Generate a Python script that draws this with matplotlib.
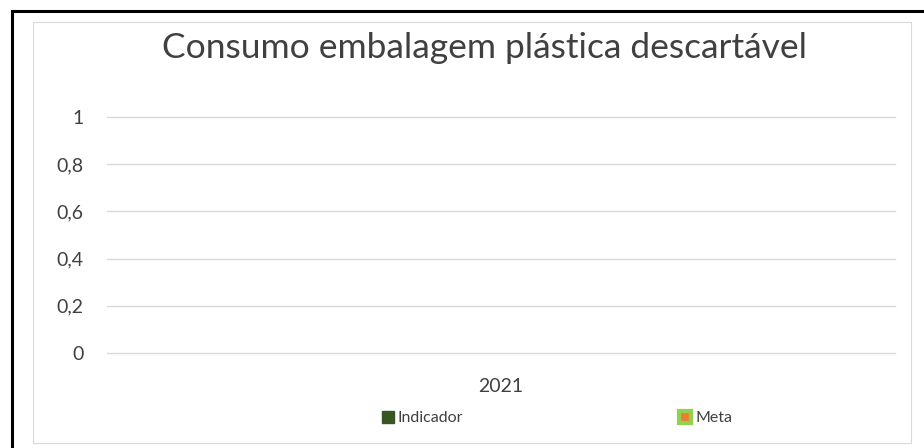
import matplotlib
matplotlib.use("Agg")
import matplotlib.pyplot as plt
from matplotlib.lines import Line2D
from matplotlib.patches import Rectangle

# data
categories = ["2021"]
indicador = [0]
meta = [0]
yticks = [0, 0.2, 0.4, 0.6, 0.8, 1]
ytick_labels = ["0", "0,2", "0,4", "0,6", "0,8", "1"]

text_color = "#404040"
plt.rcParams["font.family"] = ["Lato", "DejaVu Sans"]

fig = plt.figure(figsize=(9.24, 4.48), dpi=100)
W, H = 924, 448

def fx(px):
    return px / W

def fy(py):
    return 1 - py / H

# outer black frame and inner chart area border
fig.patches.append(Rectangle((fx(12), fy(470)), fx(950 - 12), fy(11) - fy(470),
                             transform=fig.transFigure, fill=False,
                             edgecolor="black", linewidth=2.2))
fig.patches.append(Rectangle((fx(33), fy(443)), fx(911 - 33), fy(22) - fy(443),
                             transform=fig.transFigure, fill=False,
                             edgecolor="#d9d9d9", linewidth=0.8))

ax = fig.add_axes([fx(107), fy(353), fx(895 - 107), fy(117) - fy(353)])
x = range(len(categories))
ax.bar([i - 0.2 for i in x], indicador, width=0.4, color="#375623")
ax.bar([i + 0.2 for i in x], meta, width=0.4, color="#92d050")

ax.set_xlim(-0.5, 0.5)
ax.set_ylim(0, 1)
ax.set_yticks(yticks)
ax.set_yticklabels(ytick_labels)
ax.set_xticks(list(x))
ax.set_xticklabels(categories)
ax.grid(axis="y", color="#d9d9d9", linewidth=1.0)
ax.set_axisbelow(True)
for g in ax.get_ygridlines():
    g.set_clip_on(False)
for s in ax.spines.values():
    s.set_visible(False)
ax.tick_params(axis="both", length=0, labelsize=14, colors=text_color)
ax.tick_params(axis="y", pad=17)
ax.tick_params(axis="x", pad=18)

fig.text(fx(484), fy(48), "Consumo embalagem plástica descartável",
         ha="center", va="center", fontsize=25.5, color=text_color)

handles = [
    Line2D([], [], linestyle="none", marker="s", markersize=8,
           markerfacecolor="#375623", markeredgecolor="#375623"),
    Line2D([], [], linestyle="none", marker="s", markersize=9,
           markerfacecolor="#ed7d31", markeredgecolor="#92d050",
           markeredgewidth=3),
]
fig.legend(handles, ["Indicador", "Meta"], loc="center",
           bbox_to_anchor=(fx(557), fy(418)), ncol=2, frameon=False,
           fontsize=11.5, labelcolor=text_color, handlelength=0.8,
           handletextpad=0.2, columnspacing=13.5)

fig.savefig("out.png", dpi=100)
